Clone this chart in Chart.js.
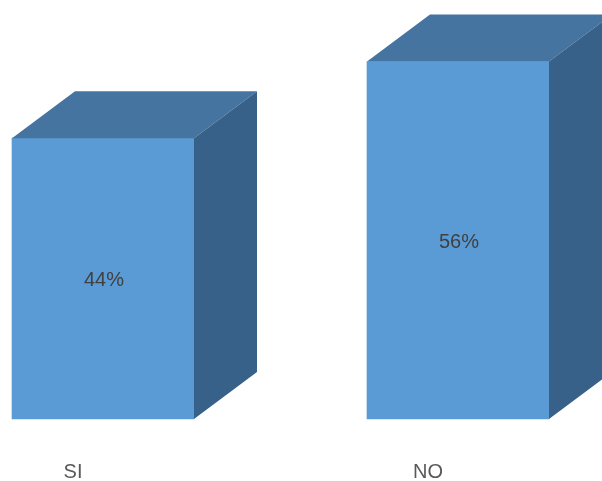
<!DOCTYPE html>
<html>
<head>
<meta charset="utf-8">
<script src="https://cdn.jsdelivr.net/npm/chart.js@4/dist/chart.umd.min.js"></script>
<style>
  html, body { margin: 0; padding: 0; background: #fff; }
  #wrap { width: 602px; height: 481px; }
</style>
</head>
<body>
<div id="wrap"><canvas id="barChart"></canvas></div>
<script>
const categories = ['SI', 'NO'];
const percents = [44, 56];

const frontColor = '#5B9BD5';
const topColor = '#44749F';
const sideColor = '#38618A';
const depthX = 63;
const depthY = 47;

// draws the top and side faces of each bar, then the value in the middle
const boxFaces = {
    id: 'boxFaces',
    afterDatasetsDraw(chart) {
        const ctx = chart.ctx;
        const meta = chart.getDatasetMeta(0);
        ctx.save();
        meta.data.forEach(function(bar, i) {
            const p = bar.getProps(['x', 'y', 'base', 'width'], true);
            const left = p.x - p.width / 2;
            const right = p.x + p.width / 2;

            ctx.fillStyle = topColor;
            ctx.beginPath();
            ctx.moveTo(left, p.y);
            ctx.lineTo(left + depthX, p.y - depthY);
            ctx.lineTo(right + depthX, p.y - depthY);
            ctx.lineTo(right, p.y);
            ctx.closePath();
            ctx.fill();

            ctx.fillStyle = sideColor;
            ctx.beginPath();
            ctx.moveTo(right, p.y);
            ctx.lineTo(right + depthX, p.y - depthY);
            ctx.lineTo(right + depthX, p.base - depthY);
            ctx.lineTo(right, p.base);
            ctx.closePath();
            ctx.fill();

            ctx.fillStyle = '#404040';
            ctx.font = '20px "Liberation Sans", Arial, sans-serif';
            ctx.textAlign = 'center';
            ctx.textBaseline = 'middle';
            ctx.fillText(percents[i] + '%', p.x + 1, (p.y + p.base) / 2 + 2);
        });
        ctx.restore();
    }
};

new Chart(document.getElementById('barChart').getContext('2d'), {
    type: 'bar',
    data: {
        labels: categories,
        datasets: [{
            data: percents,
            backgroundColor: frontColor,
            borderWidth: 0,
            barThickness: 182,
            clip: false
        }]
    },
    options: {
        responsive: true,
        maintainAspectRatio: false,
        animation: false,
        events: [],
        layout: { padding: { top: 36, left: 103, right: 144, bottom: 0 } },
        plugins: {
            legend: { display: false },
            tooltip: { enabled: false }
        },
        scales: {
            x: {
                offset: false,
                grid: { display: false, drawTicks: false },
                border: { display: false },
                ticks: {
                    color: '#595959',
                    padding: 43,
                    labelOffset: -30,
                    font: { family: '"Liberation Sans", Arial, sans-serif', size: 20, lineHeight: 1 }
                },
                afterFit(scale) {
                    scale.height = 62;
                }
            },
            y: {
                display: false,
                min: 0,
                max: 60
            }
        }
    },
    plugins: [boxFaces]
});
</script>
</body>
</html>
